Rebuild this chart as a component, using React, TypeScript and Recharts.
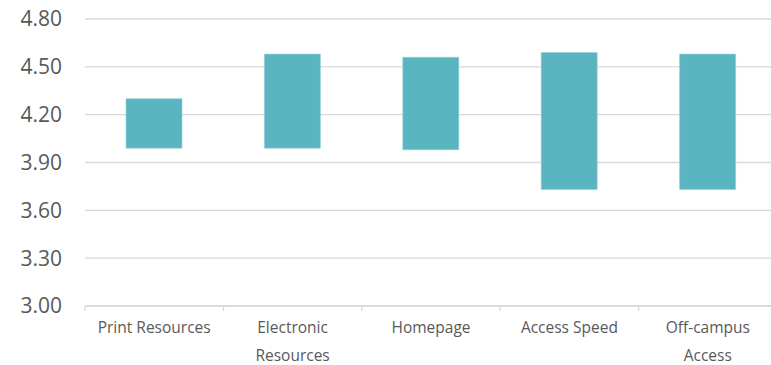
import React from 'react';
import { BarChart, Bar, XAxis, YAxis, CartesianGrid } from 'recharts';

const categories = ['Print Resources', 'Electronic Resources', 'Homepage', 'Access Speed', 'Off-campus Access'];
const labelLines = [['Print Resources'], ['Electronic', 'Resources'], ['Homepage'], ['Access Speed'], ['Off-campus', 'Access']];
const lowValues = [3.99, 3.99, 3.98, 3.73, 3.73];
const highValues = [4.30, 4.58, 4.56, 4.59, 4.58];
const yTicks = [3.0, 3.3, 3.6, 3.9, 4.2, 4.5, 4.8];

const chartData = categories.map((name, i) => ({
  name,
  lines: labelLines[i],
  range: [lowValues[i], highValues[i]],
}));

const AXIS_COLOR = '#d9d9d9';
const TEXT_COLOR = '#595959';
const FONT = '"Open Sans", "Noto Sans", sans-serif';

const CategoryTick = (props: any) => {
  const { x, y, payload, index } = props;
  const half = payload?.offset ?? 0;
  const lines = labelLines[index] ?? [payload.value];
  return (
    <g>
      <line x1={x - half} y1={y} x2={x - half} y2={y + 5} stroke={AXIS_COLOR} strokeWidth={1.3} />
      <text textAnchor="middle" fill={TEXT_COLOR} fontSize={15.5} fontFamily={FONT}>
        {lines.map((line: string, i: number) => (
          <tspan key={i} x={x} y={y + 27 + i * 28}>
            {line}
          </tspan>
        ))}
      </text>
    </g>
  );
};

export default function App() {
  return (
    <div style={{ width: 771, height: 365, overflow: 'hidden' }}>
      <style>{'body{margin:0;overflow:hidden}'}</style>
      <BarChart
        width={777}
        height={365}
        data={chartData}
        margin={{ top: 19, right: 0, bottom: 0, left: 0 }}
      >
        <CartesianGrid vertical={false} stroke={AXIS_COLOR} strokeWidth={1.4} />
        <XAxis
          dataKey="name"
          height={59}
          tickSize={0}
          tickMargin={0}
          tickLine={false}
          axisLine={{ stroke: AXIS_COLOR, strokeWidth: 1.4 }}
          tick={<CategoryTick />}
          interval={0}
        />
        <YAxis
          width={85}
          domain={[3, 4.8]}
          ticks={yTicks}
          tickFormatter={(v: number) => v.toFixed(2)}
          axisLine={false}
          tickLine={false}
          tickSize={0}
          tickMargin={23}
          tick={{ fill: TEXT_COLOR, fontSize: 21, fontFamily: FONT }}
          allowDataOverflow
        />
        <Bar dataKey="range" fill="#5BB5C0" stroke="#8fd0d8" strokeWidth={0.6} barSize={56} isAnimationActive={false} />
      </BarChart>
    </div>
  );
}
